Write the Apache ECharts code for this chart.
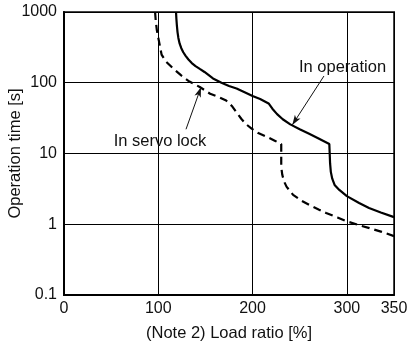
<!DOCTYPE html>
<html>
<head>
<meta charset="utf-8">
<script src="https://cdn.jsdelivr.net/npm/echarts@6/dist/echarts.min.js"></script>
<style>html,body{margin:0;padding:0;background:#fff}#c{width:409px;height:347px}</style>
</head>
<body>
<div id="c"></div>
<script>
// Load ratio [%] -> operation time [s]
var inOperation = [[118.8,1000],[119.2,800],[119.7,650],[120.4,520],[121.3,430],[122.6,360],[124.3,310],[126.5,270],[129,240],[132,213],[135.5,190],[139.5,172],[144,157],[149,142],[158,115],[167,100],[175,90],[183,83],[191,74],[200,65],[208,59],[217,51],[221,43],[226,36],[232,30.5],[240,25.8],[250,22],[260,19],[270,16.3],[281.4,13.6],[281.8,10],[282.2,7.3],[283,5.5],[284.5,4.4],[287,3.6],[292,3.06],[300,2.5],[313,2.0],[323.5,1.7],[336,1.47],[350,1.26]];
var inServoLock = [[96.6,1000],[97.3,750],[98.5,550],[100.5,400],[103.5,250],[108,200],[116,158],[124,128],[133,104],[144,87],[155,70],[165,62],[172,56],[178,47],[183,38],[188,31],[193,26],[199,22.5],[206,19.5],[215,17.2],[223,15.3],[230.4,13.6],[230.4,6.5],[231.5,5],[233.5,4],[236,3.4],[243,2.6],[252,2.15],[260,1.88],[270,1.62],[278,1.44],[290,1.25],[300,1.1],[312,0.98],[324,0.88],[337,0.78],[350,0.68]];
var xTicks = [0,100,200,300,350];
var yTicks = [0.1,1,10,100,1000];
var labelOperation = {text:'In operation', at:[295.4,164], arrowFrom:[275.7,124.5], arrowTo:[242.1,25.3]};
var labelServo = {text:'In servo lock', at:[101.8,15.0], arrowFrom:[129.4,22], arrowTo:[145.3,86.3]};

var FONT = 'Liberation Sans, Arial, sans-serif';
var chart = echarts.init(document.getElementById('c'), null, {renderer:'canvas'});
function fmtY(v){
  for (var i=0;i<yTicks.length;i++){ if (Math.abs(v-yTicks[i])/yTicks[i] < 1e-6) return String(yTicks[i]); }
  return '';
}
function annot(a){
  return {
    markPoint: {
      silent:true, symbol:'circle', symbolSize:0,
      data:[{coord:a.at, value:a.text}],
      label:{show:true, position:'inside', formatter:a.text, color:'#111', fontSize:16.5, fontFamily:FONT}
    },
    markLine: {
      silent:true, animation:false,
      lineStyle:{color:'#111', width:1, type:'solid'},
      label:{show:false},
      data:[[{coord:a.arrowFrom, symbol:'none'},{coord:a.arrowTo, symbol:'arrow', symbolSize:[5,10]}]]
    }
  };
}
var opA = annot(labelOperation), svA = annot(labelServo);
chart.setOption({
  animation:false,
  backgroundColor:'#fff',
  grid:{left:64, right:15, top:12, bottom:52, containLabel:false, outerBoundsMode:'none',
        show:true, borderColor:'#444', borderWidth:2, backgroundColor:'transparent'},
  xAxis:{
    type:'value', min:0, max:350, interval:100,
    name:'(Note 2) Load ratio [%]', nameLocation:'middle', nameGap:30, nameMoveOverlap:false,
    nameTextStyle:{color:'#111', fontSize:16.5, fontFamily:FONT},
    axisLine:{show:true, lineStyle:{color:'#000', width:2}},
    axisTick:{show:false},
    axisLabel:{color:'#111', fontSize:16, fontFamily:FONT, margin:6,
      formatter:function(v){ return xTicks.indexOf(v)>=0 ? String(v) : ''; }},
    splitLine:{show:true, lineStyle:{color:'#000', width:1}}
  },
  yAxis:{
    type:'log', logBase:10, min:0.1, max:1000,
    name:'Operation time [s]', nameLocation:'middle', nameGap:40, nameMoveOverlap:false,
    nameTextStyle:{color:'#111', fontSize:16.5, fontFamily:FONT},
    axisLine:{show:true, lineStyle:{color:'#000', width:2}},
    axisTick:{show:false},
    axisLabel:{color:'#111', fontSize:16, fontFamily:FONT, margin:7, formatter:fmtY},
    splitLine:{show:true, lineStyle:{color:'#000', width:1}},
    minorTick:{show:false}, minorSplitLine:{show:false}
  },
  series:[
    {type:'line', name:'In operation', data:inOperation, showSymbol:false, symbol:'none', smooth:false,
     lineStyle:{color:'#000', width:2.2}, z:3, markPoint:opA.markPoint, markLine:opA.markLine},
    {type:'line', name:'In servo lock', data:inServoLock, showSymbol:false, symbol:'none', smooth:false,
     lineStyle:{color:'#000', width:2.2, type:[8,5]}, z:3, markPoint:svA.markPoint, markLine:svA.markLine}
  ]
});
</script>
</body>
</html>
